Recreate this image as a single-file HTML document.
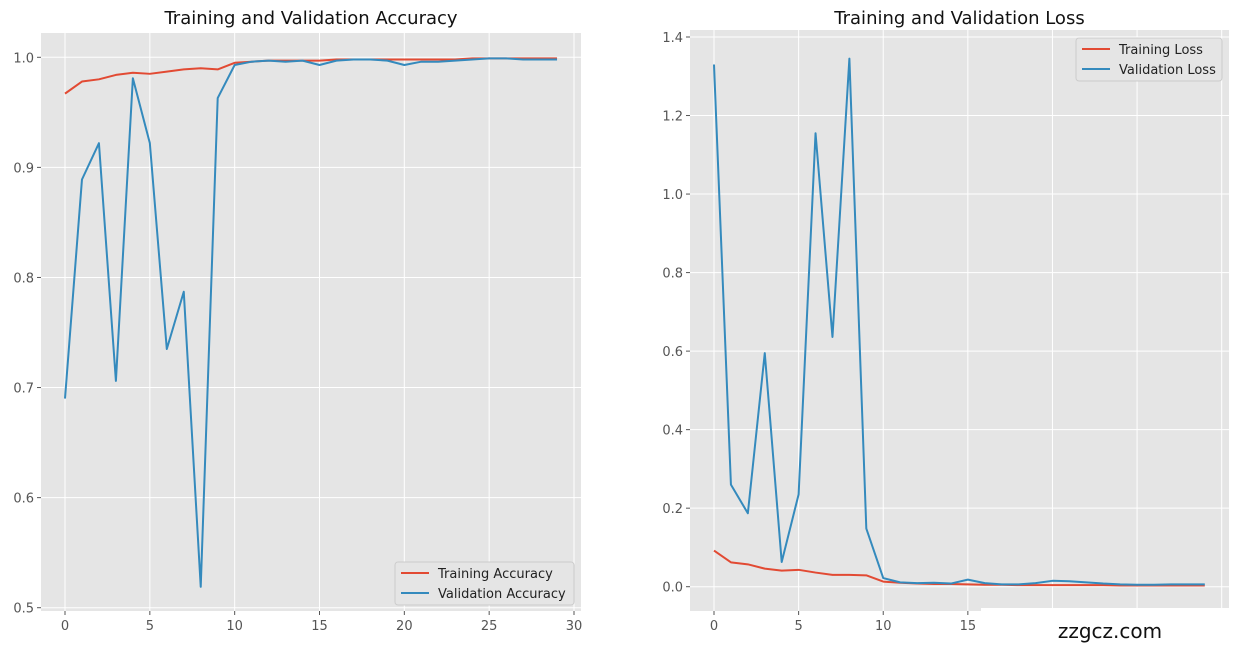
<!DOCTYPE html>
<html><head><meta charset="utf-8"><style>
body{margin:0;background:#fff;font-family:"Liberation Sans","DejaVu Sans",sans-serif}
svg text{font-family:"DejaVu Sans","Liberation Sans",sans-serif}
</style></head><body>
<svg id="s" width="1241" height="644" xmlns="http://www.w3.org/2000/svg"></svg>
<script>
const epochs=[...Array(30).keys()];
const trainAcc=[.967,.978,.980,.984,.986,.985,.987,.989,.990,.989,.995,.996,.997,.997,.997,.997,.998,.998,.998,.998,.998,.998,.998,.998,.999,.999,.999,.999,.999,.999];
const valAcc=[.690,.889,.922,.706,.981,.922,.735,.787,.519,.963,.993,.996,.997,.996,.997,.993,.997,.998,.998,.997,.993,.996,.996,.997,.998,.999,.999,.998,.998,.998];
const trainLoss=[.092,.062,.057,.046,.041,.043,.036,.030,.030,.029,.013,.010,.008,.007,.007,.006,.005,.005,.004,.004,.004,.004,.004,.004,.003,.003,.003,.003,.003,.003];
const valLoss=[1.33,.26,.187,.595,.063,.235,1.155,.636,1.345,.148,.022,.011,.009,.010,.008,.018,.009,.006,.006,.009,.015,.014,.011,.008,.006,.005,.005,.006,.006,.006];
const accXTicks=[0,5,10,15,20,25,30];
const accYTicks=[0.5,0.6,0.7,0.8,0.9,1.0];
const lossXTicks=[0,5,10,15,20,25,30];
const lossXLabels=["0","5","10","15","","",""];
const lossYTicks=[0,0.2,0.4,0.6,0.8,1.0,1.2,1.4];
const NS="http://www.w3.org/2000/svg";
const svg=document.getElementById('s');
function mk(t,a,p){const e=document.createElementNS(NS,t);for(const k in a)e.setAttribute(k,a[k]);(p||svg).appendChild(e);return e;}
function chart(o){
 const g=mk('g',{});
 
 
 const X=v=>o.x0px+(v-o.x0)*(o.x1px-o.x0px)/(o.x1-o.x0);
 const Y=v=>o.y0px+(v-o.y0)*(o.y1px-o.y0px)/(o.y1-o.y0);
 const bg=mk('rect',{x:o.L,y:o.T,width:o.R-o.L,height:o.B-o.T,fill:'#e5e5e5'},g);
 
 o.xt.forEach((t,i)=>{const x=X(t);
  mk('line',{x1:x,x2:x,y1:o.T,y2:o.B,stroke:'#fff','stroke-width':1},g);
  mk('line',{x1:x,x2:x,y1:o.B,y2:o.B+4,stroke:'#555'},g);
  const tx=mk('text',{x:x,y:o.B+19,'font-size':13,fill:'#555','text-anchor':'middle'},g);
  tx.textContent=o.xl?o.xl[i]:String(t);
  });
 o.yt.forEach(t=>{const y=Y(t);
  mk('line',{x1:o.L,x2:o.R,y1:y,y2:y,stroke:'#fff','stroke-width':1},g);
  mk('line',{x1:o.L-4,x2:o.L,y1:y,y2:y,stroke:'#555'},g);
  const tx=mk('text',{x:o.L-7,y:y+5,'font-size':13,fill:'#555','text-anchor':'end'},g);
  tx.textContent=t.toFixed(1);
  });
 o.series.forEach(s=>{
  const p=mk('polyline',{points:s.d.map((v,i)=>X(epochs[i])+','+Y(v)).join(' '),fill:'none',stroke:s.c,'stroke-width':2,'stroke-linejoin':'round'},g);
  });
 const t=mk('text',{x:(o.L+o.R)/2,y:24,'font-size':18,fill:'#111','text-anchor':'middle'},g);
 t.textContent=o.title;
 const lg=mk('g',{},g);
 mk('rect',{x:o.lx,y:o.ly,width:o.lw,height:43,fill:'#e5e5e5',stroke:'#ccc',rx:3},lg);
 o.series.forEach((s,i)=>{const yy=o.ly+11+i*20;
  mk('line',{x1:o.lx+6,x2:o.lx+34,y1:yy,y2:yy,stroke:s.c,'stroke-width':2},lg);
  const lt=mk('text',{x:o.lx+43,y:yy+5,'font-size':13,fill:'#222'},lg);lt.textContent=s.label;
  });
}
chart({name:'accuracy-chart',title:'Training and Validation Accuracy',L:41,R:581,T:33,B:611,
 x0:0,x1:30,x0px:65,x1px:574,y0:0.5,y1:1.0,y0px:607.7,y1px:57.3,xt:accXTicks,yt:accYTicks,
 lx:395,ly:562,lw:179,
 series:[{d:trainAcc,c:'#e24a33',n:'training-accuracy-line',label:'Training Accuracy'},{d:valAcc,c:'#348abd',n:'validation-accuracy-line',label:'Validation Accuracy'}]});
chart({name:'loss-chart',title:'Training and Validation Loss',L:690,R:1229,T:30,B:611,
 x0:0,x1:30,x0px:714,x1px:1221.7,y0:0,y1:1.4,y0px:586.7,y1px:37,xt:lossXTicks,xl:lossXLabels,yt:lossYTicks,
 lx:1076,ly:38,lw:146,
 series:[{d:trainLoss,c:'#e24a33',n:'training-loss-line',label:'Training Loss'},{d:valLoss,c:'#348abd',n:'validation-loss-line',label:'Validation Loss'}]});
const wm=mk('rect',{x:981,y:608,width:260,height:36,fill:'#fff'});

const wt=mk('text',{x:1110,y:638,'font-size':20,fill:'#111','text-anchor':'middle'});
wt.textContent='zzgcz.com';

</script>
</body></html>
